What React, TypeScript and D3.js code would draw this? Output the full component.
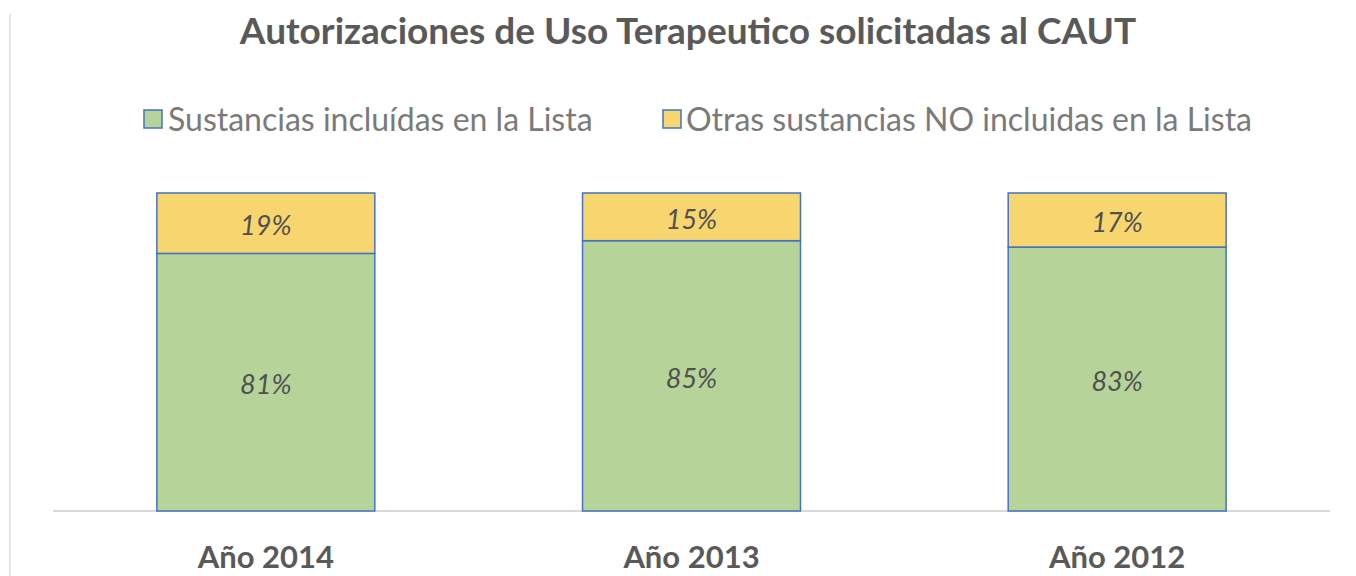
import React from "react";
import * as d3 from "d3";

const categories = ["Año 2014", "Año 2013", "Año 2012"];
const incluidas = [81, 85, 83];
const otras = [19, 15, 17];
const seriesNames = ["Sustancias incluídas en la Lista", "Otras sustancias NO incluidas en la Lista"];
const seriesColors = ["#b6d499", "#f7d56f"];

const W = 1356, H = 576;

export default function App() {
  const x = d3.scaleBand<string>().domain(categories).range([53, 1330]).paddingInner(0.488).paddingOuter(0.244);
  const y = d3.scaleLinear().domain([0, 100]).range([511, 193]);
  const font = "Lato, 'Open Sans', sans-serif";
  return (
    <svg width={W} height={H} style={{ position: "absolute", left: 0, top: 0, background: "#fff" }}>
      <line x1={10} x2={10} y1={14} y2={576} stroke="#e6e6e6" strokeWidth={2} />
      <text x={688} y={44} textAnchor="middle" fontFamily={font} fontWeight={700} fontSize={37} fill="#595959">
        Autorizaciones de Uso Terapeutico solicitadas al CAUT
      </text>
      {/* legend */}
      <rect x={144} y={110} width={18} height={18} fill={seriesColors[0]} stroke="#4472c4" strokeWidth={1.5} />
      <text x={168} y={131} fontFamily={font} fontSize={32} fill="#7a7a7a">{seriesNames[0]}</text>
      <rect x={663} y={110} width={18} height={18} fill={seriesColors[1]} stroke="#4472c4" strokeWidth={1.5} />
      <text x={686} y={131} fontFamily={font} fontSize={32} fill="#7a7a7a">{seriesNames[1]}</text>
      {/* axis */}
      <line x1={53} x2={1330} y1={511} y2={511} stroke="#d9d9d9" strokeWidth={2} />
      {categories.map((c, i) => {
        const x0 = x(c)!;
        const bw = x.bandwidth();
        const yMid = y(incluidas[i]);
        const yTop = y(incluidas[i] + otras[i]);
        return (
          <g key={c}>
            <rect x={x0} y={yMid} width={bw} height={y(0) - yMid} fill={seriesColors[0]} stroke="#4472c4" strokeWidth={1.5} />
            <rect x={x0} y={yTop} width={bw} height={yMid - yTop} fill={seriesColors[1]} stroke="#4472c4" strokeWidth={1.5} />
            <text x={x0 + bw / 2} y={(yMid + y(0)) / 2 + 12} textAnchor="middle" fontFamily={font} fontStyle="italic" fontSize={27} fill="#505050">{incluidas[i]}%</text>
            <text x={x0 + bw / 2} y={(yTop + yMid) / 2 + 12} textAnchor="middle" fontFamily={font} fontStyle="italic" fontSize={27} fill="#505050">{otras[i]}%</text>
            <text x={x0 + bw / 2} y={568} textAnchor="middle" fontFamily={font} fontWeight={700} fontSize={31} fill="#595959">{c}</text>
          </g>
        );
      })}
    </svg>
  );
}
